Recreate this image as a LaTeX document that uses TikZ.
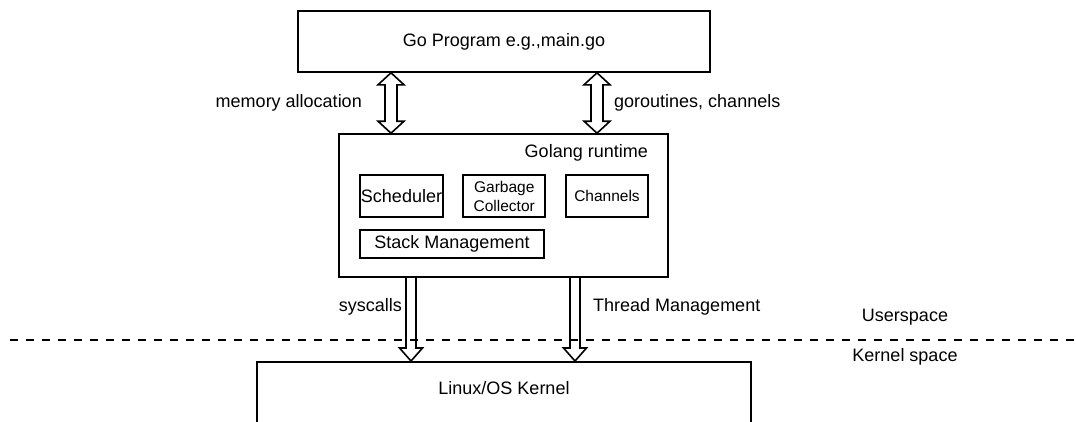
\documentclass[tikz,border=0pt]{standalone}
\usepackage{fontspec}
\setmainfont{Liberation Sans}
\usetikzlibrary{positioning,calc}

\tikzset{
  box/.style={draw, line width=1.6pt, inner sep=0pt, font=\fontsize{18}{21}\selectfont},
  lbl/.style={inner sep=0pt, font=\fontsize{18}{21}\selectfont},
  small/.style={font=\fontsize{15.5}{19}\selectfont, align=center},
  blockarrow/.style={line width=1.6pt, line join=miter}
}

% hollow arrows between two coordinates
\newcommand\twoway[2]{%
  \draw[blockarrow] (#1) -- ++(13,12) -- ++(-7,0) -- ($(#2)+(6,-12)$) -- ++(7,0) -- (#2)
    -- ++(-13,-12) -- ++(7,0) -- ($(#1)+(-6,12)$) -- ++(-7,0) -- cycle;}
\newcommand\downway[2]{%
  \draw[blockarrow] ($(#1)+(-5,0)$) -- ($(#2)+(-5,-13)$) -- ++(-6.5,0) -- (#2)
    -- ++(11.5,-13) -- ++(-6.5,0) -- ($(#1)+(5,0)$);}

\begin{document}
\begin{tikzpicture}[x=1pt, y=-1pt, node distance=102.75pt]
        \useasboundingbox (0,0) rectangle (1076,421);
        \node[box, minimum width=412pt, minimum height=61pt] (P) at (504,41.5) {Go Program e.g.,main.go};
        \node[box, minimum width=329pt, minimum height=143pt] (R) at (503.5,205.5) {};
        \node[lbl, anchor=east] (Rt) at (648,153) {Golang runtime};
        \node[box, minimum width=83pt, minimum height=42pt] (S) at (401.5,196) {Scheduler};
        \node[box, small, minimum width=82pt, minimum height=42pt] (G) [right of=S] {Garbage\\Collector};
        \node[box, small, minimum width=82pt, minimum height=42pt] (C) [right of=G] {Channels};
        \node[box, minimum width=184pt, minimum height=28pt] (M) at (452,244) {Stack Management};
        \node[box, minimum width=494pt, minimum height=120pt, anchor=north] (K) at (504,361) {};
        \node[lbl] (Kt) at (504,388) {Linux/OS Kernel};

        % user / kernel boundary
        \coordinate (dl) at (10,340);
        \coordinate (dr) at (1076,340);
        \draw[line width=2pt, dash pattern=on 8pt off 8pt] (dl) -- (dr);
        \node[lbl] (U) at (905,317) {Userspace};
        \node[lbl] (Ks) at (905,357) {Kernel space};

        \coordinate (a1) at ([xshift=-113pt]P.south);
        \coordinate (a2) at (a1 |- R.north);
        \coordinate (b1) at ([xshift=93pt]P.south);
        \coordinate (b2) at (b1 |- R.north);
        \coordinate (c1) at ([xshift=-92.5pt]R.south);
        \coordinate (c2) at (c1 |- K.north);
        \coordinate (d1) at ([xshift=71.5pt]R.south);
        \coordinate (d2) at (d1 |- K.north);
        \twoway{a1}{a2};
        \twoway{b1}{b2};
        \downway{c1}{c2};
        \downway{d1}{d2};

        \node[lbl, anchor=east] (ma) at (362,103) {memory allocation};
        \node[lbl, anchor=west] (gc) at (614,103) {goroutines, channels};
        \node[lbl, anchor=east] (sc) at (402,307) {syscalls};
        \node[lbl, anchor=west] (tm) at (593,307) {Thread Management};
    \end{tikzpicture}
\end{document}
